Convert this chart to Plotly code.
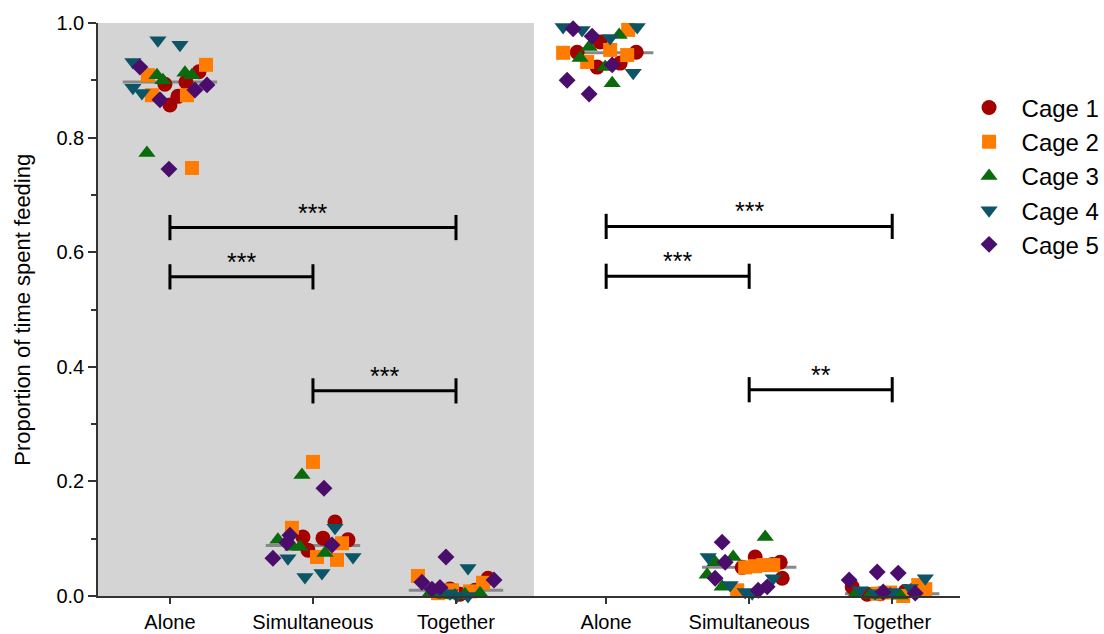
import plotly.graph_objects as go

# ---------------- data ----------------
group_labels = ["Alone", "Simultaneous", "Together", "Alone", "Simultaneous", "Together"]
group_positions = [0, 1, 2, 3.05, 4.05, 5.05]
group_means = [0.897, 0.088, 0.010, 0.948, 0.050, 0.004]

cage_names = ["Cage 1", "Cage 2", "Cage 3", "Cage 4", "Cage 5"]
cage_colors = ["#a30000", "#ff7c00", "#0b6a0b", "#0d5566", "#4b0d6b"]
cage_symbols = ["circle", "square", "triangle-up", "triangle-down", "diamond"]
cage_sizes = [15, 14, 15, 15, 13]

# values per group (6 groups), per cage
cage1_values = [[0.893, 0.857, 0.872, 0.897, 0.915], [0.103, 0.080, 0.101, 0.129, 0.098],
                [0.007, 0.031, 0.003, 0.010, 0.012], [0.967, 0.949, 0.923, 0.930, 0.949],
                [0.068, 0.050, 0.059, 0.031, 0.055], [0.016, 0.003, 0.004, 0.008, 0.012]]
cage2_values = [[0.909, 0.874, 0.874, 0.927, 0.747], [0.234, 0.119, 0.068, 0.063, 0.092],
                [0.035, 0.023, 0.005, 0.008, 0.010], [0.948, 0.932, 0.953, 0.944, 0.988],
                [0.010, 0.050, 0.054, 0.054, 0.052], [0.019, 0.000, 0.004, 0.006, 0.012]]
cage3_values = [[0.909, 0.900, 0.913, 0.909, 0.773], [0.211, 0.098, 0.086, 0.086, 0.075],
                [0.005, 0.005, 0.002, 0.003, 0.001], [0.958, 0.939, 0.979, 0.923, 0.895],
                [0.103, 0.068, 0.059, 0.037, 0.016], [0.003, 0.003, 0.002, 0.001, 0.002]]
cage4_values = [[0.970, 0.962, 0.932, 0.887, 0.878], [0.119, 0.066, 0.033, 0.040, 0.068],
                [0.049, 0.000, 0.000, 0.005, 0.008], [0.993, 0.988, 0.974, 0.993, 0.913],
                [0.068, 0.019, 0.007, 0.005, 0.031], [0.031, 0.010, 0.007, 0.014, 0.005]]
cage5_values = [[0.923, 0.866, 0.883, 0.892, 0.745], [0.188, 0.066, 0.106, 0.093, 0.089],
                [0.068, 0.024, 0.028, 0.012, 0.015], [0.990, 0.977, 0.927, 0.900, 0.876],
                [0.094, 0.059, 0.031, 0.010, 0.016], [0.042, 0.040, 0.028, 0.007, 0.005]]

# horizontal scatter offsets (in category units)
cage1_offsets = [[-0.035, 0.000, 0.056, 0.112, 0.203], [-0.070, -0.035, 0.070, 0.154, 0.245],
                 [-0.091, 0.224, 0.028, 0.133, -0.042], [-0.042, -0.203, -0.063, 0.098, 0.210],
                 [0.042, -0.049, 0.217, 0.231, 0.161], [-0.280, -0.175, -0.084, 0.091, 0.161]]
cage2_offsets = [[-0.154, -0.126, 0.119, 0.252, 0.154], [0.000, -0.147, 0.028, 0.168, 0.203],
                 [-0.266, 0.189, -0.126, 0.098, -0.028], [-0.301, -0.133, 0.028, 0.147, 0.154],
                 [-0.084, -0.028, 0.098, 0.168, 0.042], [0.182, 0.077, -0.105, -0.014, 0.231]]
cage3_offsets = [[-0.091, -0.049, 0.105, 0.154, -0.161], [-0.077, -0.245, -0.140, -0.091, 0.084],
                 [-0.182, 0.168, -0.077, 0.063, -0.007], [-0.119, -0.182, 0.091, -0.007, 0.042],
                 [0.112, -0.112, -0.238, -0.294, -0.189], [-0.259, -0.014, -0.154, 0.056, -0.084]]
cage4_offsets = [[-0.084, 0.070, -0.259, -0.259, -0.196], [0.154, -0.175, -0.056, 0.063, 0.280],
                 [0.084, 0.007, 0.084, -0.042, -0.112], [-0.301, -0.168, 0.028, 0.217, 0.189],
                 [-0.287, -0.133, -0.028, 0.021, 0.168], [0.231, -0.224, 0.007, 0.126, -0.119]]
cage5_offsets = [[-0.210, -0.070, 0.175, 0.259, -0.007], [0.077, -0.280, -0.161, -0.182, 0.133],
                 [-0.070, -0.238, 0.266, -0.168, -0.112], [-0.231, -0.098, 0.042, -0.273, -0.119],
                 [-0.189, -0.168, -0.238, 0.063, 0.126], [-0.105, 0.042, -0.301, -0.063, 0.161]]

# significance brackets: (from group, to group, height, label)
bracket_from = [0, 0, 1, 3, 3, 4]
bracket_to = [2, 1, 2, 5, 4, 5]
bracket_y = [0.643, 0.557, 0.358, 0.645, 0.558, 0.360]
bracket_text = ["***", "***", "***", "***", "***", "**"]

# ---------------- figure ----------------
all_values = [cage1_values, cage2_values, cage3_values, cage4_values, cage5_values]
all_offsets = [cage1_offsets, cage2_offsets, cage3_offsets, cage4_offsets, cage5_offsets]

FONT = "Liberation Sans, Arial, sans-serif"
fig = go.Figure()

# mean lines
MEAN_HALF = 0.33
for pos, m in zip(group_positions, group_means):
    fig.add_trace(go.Scatter(x=[pos - MEAN_HALF, pos + MEAN_HALF], y=[m, m], mode="lines",
                             line=dict(color="#888888", width=3), showlegend=False,
                             hoverinfo="skip", cliponaxis=False))

for name, color, sym, size, vals, offs in zip(cage_names, cage_colors, cage_symbols, cage_sizes,
                                              all_values, all_offsets):
    xs, ys = [], []
    for g, pos in enumerate(group_positions):
        for v, o in zip(vals[g], offs[g]):
            xs.append(pos + o)
            ys.append(v)
    fig.add_trace(go.Scatter(x=xs, y=ys, mode="markers", name=name, legendgroup=name,
                             marker=dict(symbol=sym, color=color, size=size, line=dict(width=0)),
                             cliponaxis=False))

# shaded background for left block
shapes = [dict(type="rect", xref="x", yref="y", x0=-0.6, x1=2.545, y0=0, y1=1.0,
               fillcolor="#d4d4d4", line=dict(width=0), layer="below")]

annotations = []
TICK_H = 0.022
for a, b, y, t in zip(bracket_from, bracket_to, bracket_y, bracket_text):
    x0, x1 = group_positions[a], group_positions[b]
    shapes.append(dict(type="line", xref="x", yref="y", x0=x0, x1=x1, y0=y, y1=y,
                       line=dict(color="black", width=3)))
    for xx in (x0, x1):
        shapes.append(dict(type="line", xref="x", yref="y", x0=xx, x1=xx, y0=y - TICK_H, y1=y + TICK_H,
                           line=dict(color="black", width=3)))
    annotations.append(dict(x=(x0 + x1) / 2, y=y, xref="x", yref="y", text=t, showarrow=False,
                            yanchor="bottom", yshift=-1, font=dict(size=25, color="black", family=FONT)))

annotations.append(dict(x=-0.088, y=0.5, xref="paper", yref="paper", text="Proportion of time spent feeding",
                        textangle=-90, showarrow=False, xanchor="center", yanchor="middle",
                        font=dict(size=22, color="black", family=FONT)))

fig.update_layout(
    width=1104, height=634,
    margin=dict(l=98, r=144, t=23, b=38, autoexpand=False),
    paper_bgcolor="white", plot_bgcolor="white",
    font=dict(family=FONT, size=20, color="black"),
    shapes=shapes, annotations=annotations,
    legend=dict(x=0.996, y=0.891, xanchor="left", yanchor="top", font=dict(size=24),
                tracegroupgap=0, traceorder="grouped", bgcolor="rgba(0,0,0,0)", itemwidth=55),
    showlegend=True,
)
fig.update_xaxes(range=[-0.503, 5.524], tickvals=group_positions, ticktext=group_labels,
                 showgrid=False, zeroline=False, showline=True, linecolor="#333333", linewidth=1.5,
                 ticks="outside", ticklen=6, tickwidth=1.5, tickcolor="#333333",
                 tickfont=dict(size=20, color="black"), automargin=False, ticklabelstandoff=1)
fig.update_yaxes(range=[0, 1.0], tickvals=[0, 0.2, 0.4, 0.6, 0.8, 1.0],
                 ticktext=["0.0", "0.2", "0.4", "0.6", "0.8", "1.0"],
                 showgrid=False, zeroline=False, showline=True, linecolor="#333333", linewidth=1.5,
                 ticks="outside", ticklen=8, tickwidth=1.5, tickcolor="#333333",
                 tickfont=dict(size=20, color="black"), automargin=False,
                 minor=dict(tickvals=[0.1, 0.3, 0.5, 0.7, 0.9], ticks="outside", ticklen=5,
                            tickwidth=1.5, tickcolor="#333333", showgrid=False))

fig.write_html("out.html")
